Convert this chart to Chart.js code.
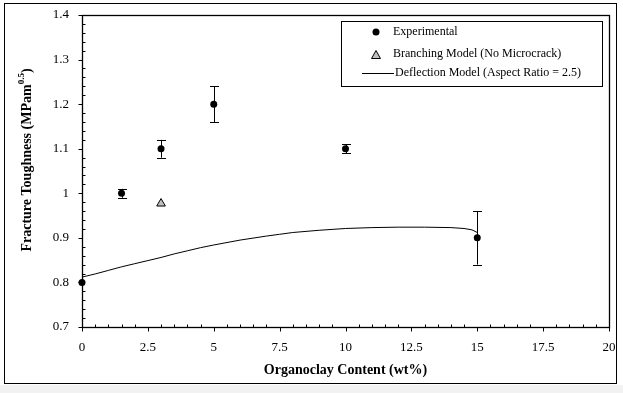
<!DOCTYPE html>
<html>
<head>
<meta charset="utf-8">
<script src="https://cdn.jsdelivr.net/npm/chart.js@4/dist/chart.umd.min.js"></script>
<style>
  html, body { margin: 0; padding: 0; background: #fff; }
  canvas { display: block; }
</style>
</head>
<body>
<canvas id="toughChart" width="623" height="393"></canvas>
<script>
// データ
const expX = [0, 1.5, 3, 5, 10, 15];
const expY = [0.80, 1.00, 1.10, 1.20, 1.10, 0.90];
const expErr = [0, 0.01, 0.02, 0.04, 0.01, 0.06];

const branchX = [3];
const branchY = [0.977];

const deflX = [0, 0.5, 1, 1.5, 2, 2.5, 3, 3.5, 4, 4.5, 5, 6, 7, 7.5, 8, 9, 10, 11, 12, 13, 14, 14.5, 14.8, 15];
const deflY = [0.812, 0.819, 0.827, 0.835, 0.842, 0.849, 0.856, 0.864, 0.871, 0.878, 0.884, 0.895, 0.904, 0.908, 0.912, 0.917, 0.921, 0.923, 0.924, 0.924, 0.923, 0.921, 0.918, 0.912];

const seriesLabels = ["Experimental", "Branching Model (No Microcrack)", "Deflection Model (Aspect Ratio = 2.5)"];
const xTitle = "Organoclay Content (wt%)";
const yTitle = "Fracture Toughness (MPam";
const yTitleSup = "0.5";

const serif = "'Liberation Serif', 'Times New Roman', serif";
const toPts = (xs, ys) => xs.map((x, i) => ({ x: x, y: ys[i] }));

// 枠・目盛り・エラーバー・凡例・軸タイトル
const decor = {
  id: "decor",
  beforeDraw(chart) {
    const ctx = chart.ctx;
    ctx.save();
    ctx.fillStyle = "#fff";
    ctx.fillRect(0, 0, chart.width, chart.height);
    ctx.fillStyle = "#f2f2f2";
    ctx.fillRect(0, 385, chart.width, chart.height - 385);
    ctx.strokeStyle = "#000";
    ctx.lineWidth = 1;
    ctx.strokeRect(4.5, 3.5, 612, 380);
    ctx.restore();
  },
  afterDatasetsDraw(chart) {
    const ctx = chart.ctx;
    const a = chart.chartArea;
    const xs = chart.scales.x, ys = chart.scales.y;
    ctx.save();
    ctx.strokeStyle = "#000";
    ctx.lineWidth = 1;

    // error bars
    expX.forEach((x, i) => {
      if (!expErr[i]) return;
      const px = Math.round(xs.getPixelForValue(x)) + 0.5;
      const hi = ys.getPixelForValue(expY[i] + expErr[i]);
      const lo = ys.getPixelForValue(expY[i] - expErr[i]);
      ctx.beginPath();
      ctx.moveTo(px, hi); ctx.lineTo(px, lo);
      ctx.moveTo(px - 4.5, Math.round(hi) + 0.5); ctx.lineTo(px + 4.5, Math.round(hi) + 0.5);
      ctx.moveTo(px - 4.5, Math.round(lo) + 0.5); ctx.lineTo(px + 4.5, Math.round(lo) + 0.5);
      ctx.stroke();
    });

    // plot box
    const L = Math.round(a.left) + 0.5, R = Math.round(a.right) + 0.5;
    const T = Math.round(a.top) + 0.5, B = Math.round(a.bottom) + 0.5;
    ctx.lineWidth = 1.3;
    ctx.strokeRect(L, T, R - L, B - T);
    ctx.lineWidth = 1;

    // x ticks: major out, minor in
    ctx.beginPath();
    for (let v = 0; v <= 20.001; v += 0.5) {
      const px = Math.round(xs.getPixelForValue(v)) + 0.5;
      if (Math.abs(v / 2.5 - Math.round(v / 2.5)) < 1e-6) {
        ctx.moveTo(px, B); ctx.lineTo(px, B + 4);
      } else {
        ctx.moveTo(px, B); ctx.lineTo(px, B - 3);
      }
    }
    // y ticks: major out, minor in
    for (let k = 0; k <= 35; k++) {
      const v = 0.7 + k * 0.02;
      const py = Math.round(ys.getPixelForValue(v)) + 0.5;
      if (k % 5 === 0) {
        ctx.moveTo(L, py); ctx.lineTo(L - 4, py);
      } else {
        ctx.moveTo(L, py); ctx.lineTo(L + 3, py);
      }
    }
    ctx.stroke();

    // legend
    ctx.strokeRect(341.5, 21.5, 261, 65);
    ctx.font = "12px " + serif;
    ctx.fillStyle = "#000";
    ctx.textBaseline = "middle";
    ctx.textAlign = "left";
    ctx.beginPath();
    ctx.arc(376, 32, 3.5, 0, Math.PI * 2);
    ctx.fill();
    ctx.fillText(seriesLabels[0], 393, 32);
    ctx.beginPath();
    ctx.moveTo(376, 50.5); ctx.lineTo(380.5, 58.5); ctx.lineTo(371.5, 58.5); ctx.closePath();
    ctx.fillStyle = "#c0c0c0";
    ctx.fill();
    ctx.stroke();
    ctx.fillStyle = "#000";
    ctx.fillText(seriesLabels[1], 393, 54);
    ctx.beginPath();
    ctx.moveTo(362, 73.5); ctx.lineTo(394, 73.5);
    ctx.stroke();
    ctx.fillText(seriesLabels[2], 395, 73);

    // axis titles
    ctx.font = "bold 14px " + serif;
    ctx.textAlign = "center";
    ctx.fillText(xTitle, (a.left + a.right) / 2, 370);

    ctx.translate(27, 160);
    ctx.rotate(-Math.PI / 2);
    const bold = "bold 14px " + serif;
    const supF = "bold 9px " + serif;
    ctx.font = bold;
    const w1 = ctx.measureText(yTitle).width;
    ctx.font = supF;
    const w2 = ctx.measureText(yTitleSup).width;
    ctx.font = bold;
    const w3 = ctx.measureText(")").width;
    const start = -(w1 + w2 + w3) / 2;
    ctx.textAlign = "left";
    ctx.fillText(yTitle, start, 0);
    ctx.font = supF;
    ctx.fillText(yTitleSup, start + w1, -5);
    ctx.font = bold;
    ctx.fillText(")", start + w1 + w2, 0);
    ctx.restore();
  }
};

new Chart(document.getElementById("toughChart"), {
  type: "scatter",
  data: {
    datasets: [
      {
        label: seriesLabels[2],
        data: toPts(deflX, deflY),
        showLine: true,
        borderColor: "#000",
        borderWidth: 1,
        pointRadius: 0,
        tension: 0
      },
      {
        label: seriesLabels[0],
        data: toPts(expX, expY),
        pointStyle: "circle",
        pointRadius: 3.5,
        backgroundColor: "#000",
        borderColor: "#000",
        borderWidth: 0
      },
      {
        label: seriesLabels[1],
        data: toPts(branchX, branchY),
        pointStyle: "triangle",
        pointRadius: 5,
        backgroundColor: "#c0c0c0",
        borderColor: "#000",
        borderWidth: 1
      }
    ]
  },
  options: {
    responsive: false,
    animation: false,
    clip: false,
    layout: { padding: { left: 0, top: 15, right: 14, bottom: 0 } },
    plugins: { legend: { display: false }, tooltip: { enabled: false } },
    scales: {
      x: {
        type: "linear",
        min: 0, max: 20,
        grid: { display: false },
        border: { display: false },
        ticks: {
          stepSize: 2.5,
          padding: 5,
          color: "#000",
          maxRotation: 0,
          font: { family: serif, size: 13 },
          callback: v => String(+v.toFixed(2))
        },
        afterFit: s => { s.height = 66; }
      },
      y: {
        type: "linear",
        min: 0.7, max: 1.4,
        grid: { display: false },
        border: { display: false },
        ticks: {
          stepSize: 0.1,
          padding: 5,
          color: "#000",
          font: { family: serif, size: 13 },
          callback: v => String(+v.toFixed(2))
        },
        afterFit: s => { s.width = 82; }
      }
    }
  },
  plugins: [decor]
});
</script>
</body>
</html>
